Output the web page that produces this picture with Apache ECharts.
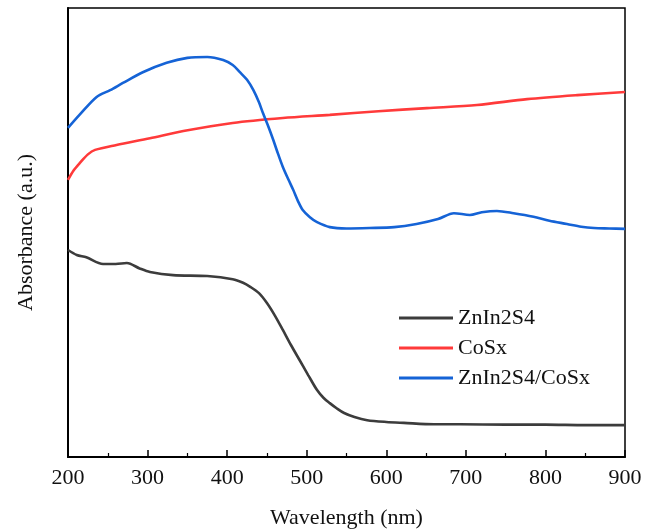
<!DOCTYPE html>
<html><head><meta charset="utf-8">
<script src="https://cdn.jsdelivr.net/npm/echarts@6/dist/echarts.min.js"></script>
<style>html,body{margin:0;padding:0;background:#fff}#c{width:657px;height:529px}</style>
</head><body><div id="c"></div>
<script>
var seriesNames = ['ZnIn2S4', 'CoSx', 'ZnIn2S4/CoSx'];
var xTicks = [200, 300, 400, 500, 600, 700, 800, 900];
var znIn2S4 = [[200,46.1],[211,45.0],[223,44.5],[244,43.0],[260,43.0],[274,43.2],[290,42.0],[303,41.2],[332,40.5],[375,40.3],[407,39.6],[420,38.8],[429,37.9],[440,36.5],[450,34.3],[460,31.5],[470,28.3],[480,25.0],[491,21.6],[502,18.2],[513,14.9],[521,13.2],[529,12.0],[538,10.8],[547,9.8],[560,8.9],[576,8.2],[600,7.8],[622,7.6],[660,7.3],[693,7.3],[750,7.2],[800,7.2],[850,7.1],[900,7.1]];
var coSx = [[200,61.7],[207,63.8],[215,65.5],[225,67.4],[234,68.4],[261,69.5],[303,71.0],[345,72.6],[407,74.4],[470,75.5],[529,76.2],[590,77.0],[651,77.7],[714,78.4],[777,79.7],[840,80.6],[900,81.3]];
var composite = [[200,73.3],[215,76.3],[236,80.2],[253,81.7],[269,83.3],[294,85.7],[324,87.8],[350,88.9],[375,89.1],[395,88.4],[407,87.3],[416,85.7],[425,84.0],[433,81.7],[440,79.0],[445,76.6],[452,73.5],[458,70.6],[464,67.5],[470,64.6],[477,61.8],[483,59.5],[489,57.0],[495,55.0],[504,53.4],[513,52.3],[529,51.2],[550,50.9],[579,51.0],[610,51.2],[638,51.9],[665,53.0],[685,54.3],[705,53.9],[720,54.5],[739,54.8],[760,54.3],[785,53.5],[805,52.6],[827,51.9],[845,51.3],[861,51.0],[880,50.9],[900,50.8]];
var colors = ['#3c3c3c', '#ff3a3a', '#1563d6'];
var font = '"Liberation Serif","Times New Roman",serif';
var chart = echarts.init(document.getElementById('c'));
function mk(name, data, color) {
  return {name: name, type: 'line', data: data, symbol: 'none', smooth: 0.3,
    lineStyle: {color: color, width: 2.6}, itemStyle: {color: color}};
}
chart.setOption({
  animation: false,
  grid: {left: 68, right: 32, top: 8, bottom: 72, containLabel: false, outerBoundsMode: 'none',
    show: true, borderColor: '#000', borderWidth: 1.5, backgroundColor: 'transparent'},
  legend: {orient: 'vertical', left: 394, top: 302, icon: 'rect', itemWidth: 54, itemHeight: 3, itemGap: 8,
    textStyle: {fontFamily: font, fontSize: 22, color: '#111'},
    data: seriesNames},
  xAxis: {type: 'value', min: 200, max: 900, interval: 100,
    name: 'Wavelength (nm)', nameLocation: 'middle', nameGap: 50,
    nameTextStyle: {fontFamily: font, fontSize: 22, color: '#111'},
    axisLine: {lineStyle: {color: '#000', width: 2}},
    axisTick: {inside: true, length: 7, lineStyle: {color: '#000', width: 1.5}},
    minorTick: {show: true, splitNumber: 2, length: 4, lineStyle: {color: '#000', width: 1.2}},
    splitLine: {show: false},
    axisLabel: {fontFamily: font, fontSize: 22, color: '#111', margin: 10,
      formatter: function (v) { return xTicks.indexOf(v) >= 0 ? String(v) : ''; }}},
  yAxis: {type: 'value', min: 0, max: 100,
    name: 'Absorbance (a.u.)', nameLocation: 'middle', nameGap: 31, nameRotate: 90,
    nameTextStyle: {fontFamily: font, fontSize: 22, color: '#111'},
    axisLine: {show: true, lineStyle: {color: '#000', width: 2}},
    axisTick: {show: false}, axisLabel: {show: false}, splitLine: {show: false}},
  series: [mk(seriesNames[0], znIn2S4, colors[0]), mk(seriesNames[1], coSx, colors[1]), mk(seriesNames[2], composite, colors[2])]
});
</script></body></html>
